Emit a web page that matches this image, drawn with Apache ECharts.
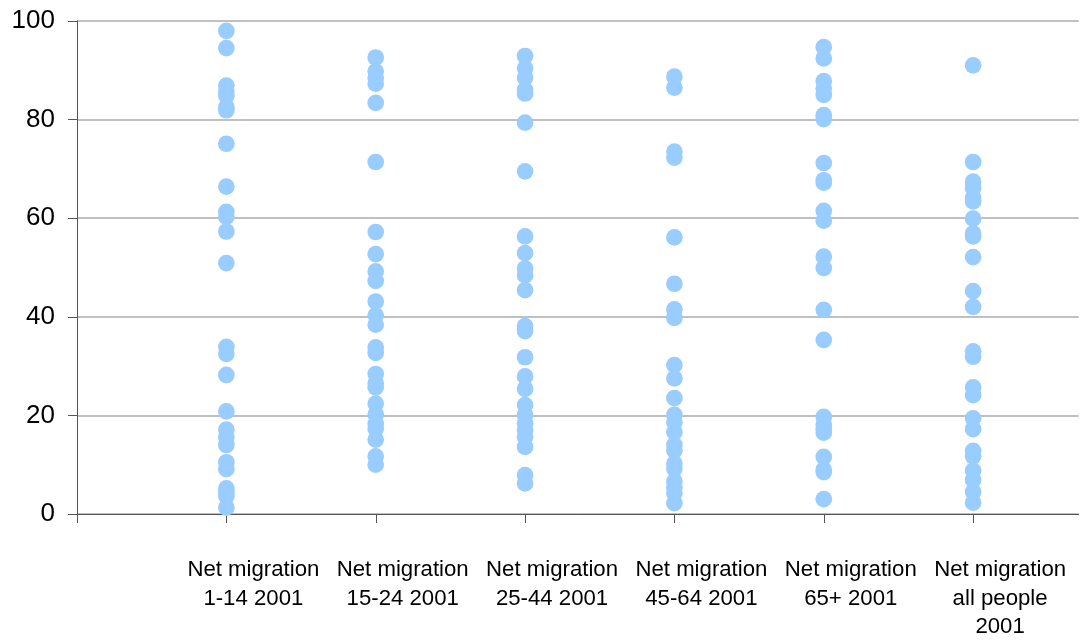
<!DOCTYPE html>
<html>
<head>
<meta charset="utf-8">
<script src="https://cdn.jsdelivr.net/npm/echarts@6/dist/echarts.min.js"></script>
<style>html,body{margin:0;padding:0;background:#fff}#c{width:1085px;height:644px}</style>
</head>
<body>
<div id="c"></div>
<script>
const categories = ["Net migration\n1-14 2001", "Net migration\n15-24 2001", "Net migration\n25-44 2001", "Net migration\n45-64 2001", "Net migration\n65+ 2001", "Net migration\nall people\n2001"];
const yTicks = [0, 20, 40, 60, 80, 100];
const age1to14 = [98.0, 94.5, 86.9, 85.7, 84.9, 82.5, 81.9, 75.1, 66.4, 61.3, 60.3, 57.3, 50.9, 33.9, 32.5, 28.2, 20.8, 17.1, 15.6, 14.0, 10.5, 9.1, 5.2, 4.3, 3.6, 1.3];
const age15to24 = [92.6, 89.8, 88.5, 87.3, 83.4, 71.4, 57.2, 52.7, 49.2, 47.3, 43.1, 40.3, 38.4, 33.8, 32.7, 28.4, 26.5, 25.7, 22.4, 20.2, 18.3, 17.3, 15.1, 11.7, 10.0];
const age25to44 = [92.9, 90.4, 88.5, 86.0, 85.3, 79.4, 69.5, 56.3, 52.9, 49.8, 48.4, 45.4, 38.1, 37.1, 31.8, 27.9, 25.4, 22.1, 20.1, 18.4, 17.0, 15.6, 13.6, 7.9, 6.2];
const age45to64 = [88.7, 86.5, 73.5, 72.3, 56.1, 46.7, 41.5, 39.8, 30.2, 27.5, 23.5, 20.1, 18.6, 16.6, 14.0, 12.9, 10.2, 9.2, 6.6, 5.4, 4.2, 2.2];
const age65plus = [94.7, 92.4, 87.8, 86.3, 85.0, 80.9, 80.1, 71.2, 67.7, 67.2, 61.5, 59.5, 52.2, 49.9, 41.4, 35.3, 19.7, 18.1, 17.2, 16.5, 11.6, 9.0, 8.5, 3.0];
const allPeople = [91.0, 71.4, 67.4, 66.1, 64.1, 63.4, 59.9, 56.9, 56.3, 52.1, 45.2, 42.0, 33.0, 31.9, 25.7, 24.1, 19.4, 17.2, 12.8, 11.7, 8.8, 6.9, 4.5, 2.3];

const groups = [age1to14, age15to24, age25to44, age45to64, age65plus, allPeople];
const points = [];
groups.forEach((vals, i) => vals.forEach(v => points.push([i + 1, v])));

const FONT = 'Liberation Sans, Arial, sans-serif';
const AXIS = '#555';
const chart = echarts.init(document.getElementById('c'));
chart.setOption({
  animation: false,
  grid: [
    { left: 77, right: 6.3, top: 21, bottom: 130, containLabel: false, outerBoundsMode: 'none' },
    { left: 77, right: 111.7, top: 21, bottom: 130, containLabel: false, outerBoundsMode: 'none' }
  ],
  xAxis: [
    {
      gridIndex: 0, type: 'value', min: 0, max: 6.707, interval: 1,
      axisLine: { show: true, onZero: false, lineStyle: { color: AXIS, width: 1 } },
      axisTick: { show: false }, splitLine: { show: false },
      axisLabel: {
        showMinLabel: true, showMaxLabel: true, hideOverlap: false,
        formatter: v => (Math.abs(v - Math.round(v)) < 1e-6 && categories[Math.round(v) - 1]) || '',
        fontFamily: FONT, fontSize: 22.2, color: '#000',
        lineHeight: 28.5, margin: 42, padding: [0, 0, 0, 54], align: 'center'
      }
    },
    {
      gridIndex: 1, type: 'value', min: 0, max: 6, interval: 1,
      axisLine: { show: false, onZero: false },
      axisTick: { show: true, length: 9, lineStyle: { color: AXIS } },
      splitLine: { show: false },
      axisLabel: { show: false }
    }
  ],
  yAxis: [
    {
      gridIndex: 0, type: 'value', min: 0, max: 100, interval: 20,
      axisLine: { show: true, lineStyle: { color: AXIS, width: 1 } },
      axisTick: { show: true, length: 9, lineStyle: { color: AXIS } },
      splitLine: { show: true, lineStyle: { color: '#c0c0c0', width: 2 } },
      axisLabel: {
        formatter: v => yTicks.includes(v) ? String(v) : '',
        fontFamily: FONT, fontSize: 26, color: '#000', margin: 22
      }
    },
    {
      gridIndex: 1, type: 'value', min: 0, max: 100, show: false
    }
  ],
  series: [{
    type: 'scatter', xAxisIndex: 0, yAxisIndex: 0, data: points, symbol: 'circle', symbolSize: 16.7,
    itemStyle: { color: '#99ccff', opacity: 1 }
  }]
});
</script>
</body>
</html>
